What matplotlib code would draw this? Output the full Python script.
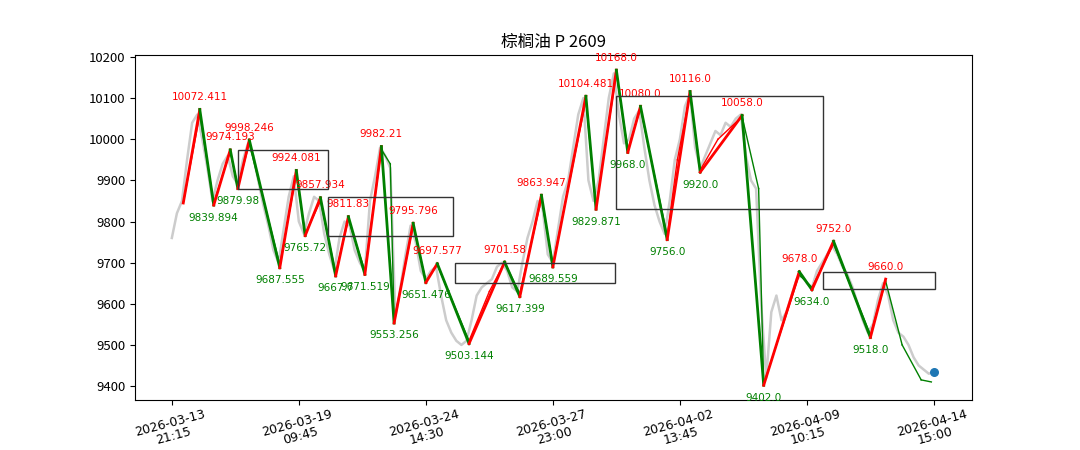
import numpy as np
import matplotlib
matplotlib.use("Agg")
import matplotlib.pyplot as plt
from matplotlib.patches import Rectangle

plt.rcParams['font.family'] = ['Noto Sans CJK SC', 'DejaVu Sans']

title = "棕榈油 P 2609"
tick_pos = [0, 100, 200, 300, 400, 500, 600]
tick_labels = ["2026-03-13\n21:15", "2026-03-19\n09:45", "2026-03-24\n14:30", "2026-03-27\n23:00",
               "2026-04-02\n13:45", "2026-04-09\n10:15", "2026-04-14\n15:00"]

gray = [9760,9820,9850,9950,10040,10060,10000,9930,9850,9900,9940,9960,9910,9890,9950,9990,9960,9900,9840,9790,
        9730,9700,9780,9860,9910,9800,9770,9820,9860,9850,9770,9720,9680,9760,9800,9790,9730,9700,9680,9850,
        9910,9980,9960,9930,9570,9640,9720,9790,9750,9680,9660,9680,9690,9620,9560,9530,9510,9500,9510,9560,
        9620,9640,9650,9660,9690,9700,9680,9640,9630,9700,9760,9800,9850,9830,9720,9700,9780,9860,9900,9980,
        10060,10100,9900,9850,9900,10000,10100,10160,10060,9990,10000,10050,10070,9980,9900,9840,9800,9770,9850,9950,
        10000,10080,10110,9980,9930,9960,9990,10020,10010,10040,10030,10050,10060,9960,9900,9880,9600,9420,9580,9620,
        9560,9580,9620,9660,9670,9650,9640,9680,9700,9720,9740,9720,9690,9670,9640,9600,9560,9530,9550,9610,
        9650,9620,9560,9530,9520,9500,9470,9450,9440,9430,9435]
gray_x = np.arange(len(gray)) * 4

piv_x = [9, 22, 33, 46, 52, 61, 85, 98, 105, 117, 129, 139, 152, 165, 175, 190, 200, 209, 234, 262, 274,
         291, 300, 326, 334, 350, 359, 369, 390, 408, 416, 449, 466, 494, 504, 521, 550, 562]
piv_y = [9845, 10072.411, 9839.894, 9974.193, 9879.98, 9998.246, 9687.555, 9924.081, 9765.72, 9857.934,
         9667.7, 9811.83, 9671.519, 9982.21, 9553.256, 9795.796, 9651.476, 9697.577, 9503.144, 9701.58,
         9617.399, 9863.947, 9689.559, 10104.481, 9829.871, 10168.0, 9968.0, 10080.0, 9756.0, 10116.0,
         9920.0, 10058.0, 9402.0, 9678.0, 9634.0, 9752.0, 9518.0, 9660.0]
piv_lbl = ["", "10072.411", "9839.894", "9974.193", "9879.98", "9998.246", "9687.555", "9924.081", "9765.72",
           "9857.934", "9667.7", "9811.83", "9671.519", "9982.21", "9553.256", "9795.796", "9651.476",
           "9697.577", "9503.144", "9701.58", "9617.399", "9863.947", "9689.559", "10104.481", "9829.871",
           "10168.0", "9968.0", "10080.0", "9756.0", "10116.0", "9920.0", "10058.0", "9402.0", "9678.0",
           "9634.0", "9752.0", "9518.0", "9660.0"]

thin_x = [9, 22, 33, 46, 52, 61, 85, 98, 105, 117, 129, 139, 152, 165, 172, 175, 190, 200, 209, 234, 250, 262,
          274, 291, 300, 326, 334, 350, 359, 369, 390, 398, 408, 416, 430, 449, 462, 466, 494, 504, 521, 550,
          562, 575, 590, 598]
thin_y = [9845, 10060, 9845, 9970, 9885, 9990, 9695, 9915, 9770, 9850, 9675, 9805, 9680, 9975, 9940, 9560,
          9790, 9655, 9695, 9510, 9630, 9700, 9625, 9855, 9695, 10095, 9835, 10160, 9975, 10075, 9765, 9950,
          10110, 9925, 10000, 10055, 9880, 9405, 9670, 9640, 9745, 9525, 9655, 9500, 9415, 9410]

boxes = [(52, 123, 9880, 9975), (123, 221, 9765, 9860), (223, 349, 9650, 9700),
         (350, 513, 9830, 10105), (513, 601, 9635, 9678)]

last_x, last_y = 600, 9435

fig = plt.figure(figsize=(10.8, 4.5), dpi=100)
ax = fig.add_axes([0.125, 0.111, 0.775, 0.767])
ax.plot(gray_x, gray, color='#cccccc', lw=1.8, zorder=1)

for i in range(len(thin_x) - 1):
    c = 'red' if thin_y[i + 1] > thin_y[i] else 'green'
    ax.plot(thin_x[i:i + 2], thin_y[i:i + 2], color=c, lw=1, zorder=2)
for i in range(len(piv_x) - 1):
    c = 'red' if piv_y[i + 1] > piv_y[i] else 'green'
    ax.plot(piv_x[i:i + 2], piv_y[i:i + 2], color=c, lw=2, zorder=3)

for i in range(1, len(piv_x)):
    if not piv_lbl[i]:
        continue
    hi = piv_y[i] > piv_y[i - 1]
    ax.text(piv_x[i], piv_y[i] + (18 if hi else -18), piv_lbl[i], color='red' if hi else 'green',
            fontsize=7.5, ha='center', va='bottom' if hi else 'top', family=['DejaVu Sans'], zorder=4)

for x0, x1, y0, y1 in boxes:
    ax.add_patch(Rectangle((x0, y0), x1 - x0, y1 - y0, fill=False, ec='#333333', lw=1, zorder=4))

ax.scatter([last_x], [last_y], s=30, color='#1f77b4', zorder=5)

ax.set_xlim(-29, 630)
ax.set_ylim(9366, 10205)
ax.set_xticks(tick_pos)
ax.set_xticklabels(tick_labels, rotation=15, family=['DejaVu Sans'], fontsize=9, linespacing=1.0)
ax.tick_params(axis='x', pad=2)
ax.tick_params(axis='y', labelsize=9.5)
ax.set_title(title, fontsize=12)
fig.savefig("out.png", dpi=100)
